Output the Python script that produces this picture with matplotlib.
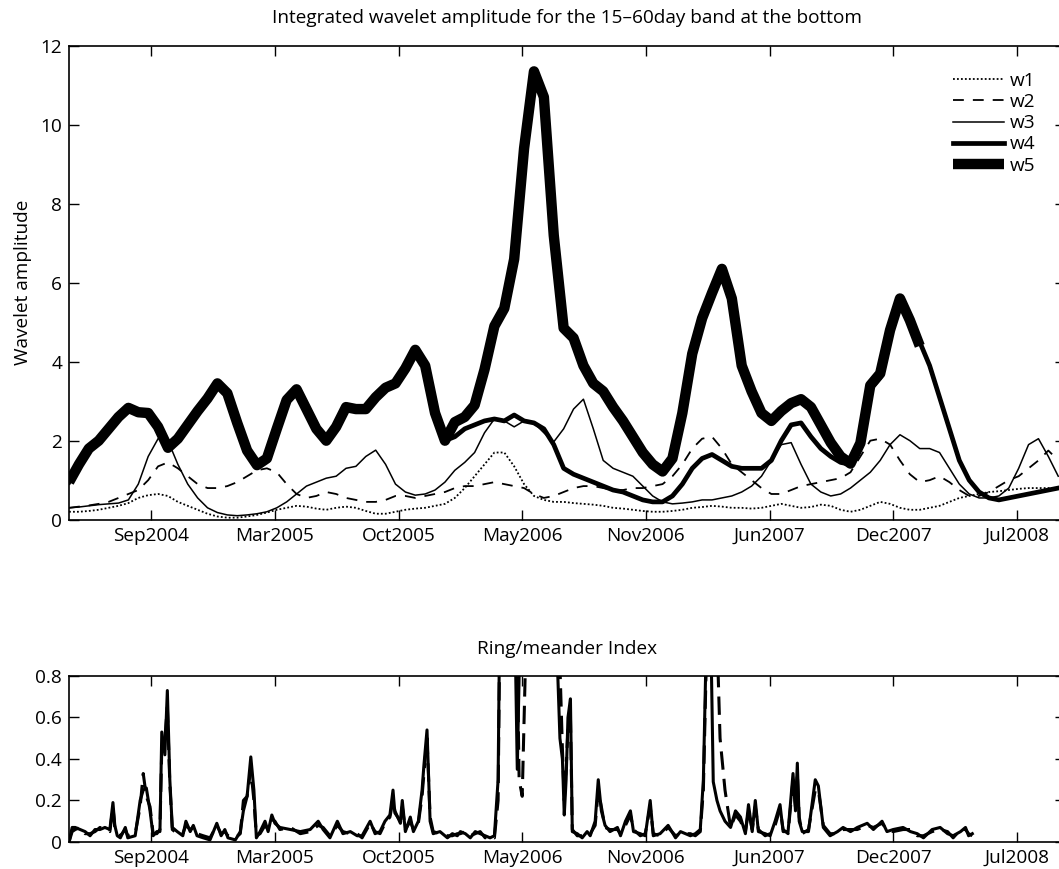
import numpy as np
import matplotlib
matplotlib.use("Agg")
import matplotlib.pyplot as plt

plt.rcParams["font.family"] = ["Open Sans", "DejaVu Sans"]

# top panel: wavelet amplitude sampled every 16 days (day 0 = 2004-04-30)
step_days = 16
w1 = [0.2, 0.2, 0.22, 0.25, 0.3, 0.35, 0.42, 0.55, 0.62, 0.65,
      0.6, 0.45, 0.35, 0.25, 0.15, 0.08, 0.05, 0.05, 0.08, 0.12,
      0.18, 0.25, 0.3, 0.35, 0.33, 0.28, 0.25, 0.3, 0.33, 0.3,
      0.22, 0.15, 0.15, 0.2, 0.25, 0.28, 0.3, 0.35, 0.4, 0.55,
      0.8, 1.1, 1.4, 1.7, 1.7, 1.35, 0.9, 0.6, 0.5, 0.45,
      0.45, 0.42, 0.4, 0.38, 0.35, 0.3, 0.28, 0.25, 0.22, 0.2,
      0.2, 0.22, 0.25, 0.3, 0.32, 0.35, 0.33, 0.3, 0.3, 0.28,
      0.3, 0.35, 0.4, 0.35, 0.3, 0.32, 0.38, 0.35, 0.25, 0.2,
      0.25, 0.35, 0.45, 0.4, 0.3, 0.25, 0.25, 0.3, 0.35, 0.45,
      0.55, 0.6, 0.65, 0.7, 0.72, 0.75, 0.78, 0.8, 0.8, 0.8, 0.8]
w2 = [0.3, 0.33, 0.36, 0.4, 0.45, 0.55, 0.65, 0.75, 1.0, 1.35,
      1.45, 1.3, 1.1, 0.9, 0.8, 0.8, 0.85, 0.95, 1.1, 1.25,
      1.3, 1.2, 0.9, 0.65, 0.55, 0.6, 0.7, 0.65, 0.55, 0.5,
      0.45, 0.45, 0.5, 0.6, 0.6, 0.55, 0.6, 0.65, 0.7, 0.8,
      0.85, 0.85, 0.9, 0.95, 0.9, 0.85, 0.8, 0.65, 0.55, 0.6,
      0.7, 0.8, 0.85, 0.85, 0.8, 0.75, 0.75, 0.8, 0.8, 0.85,
      0.9, 1.1, 1.4, 1.8, 2.05, 2.1, 1.8, 1.4, 1.2, 1.0,
      0.8, 0.65, 0.65, 0.75, 0.85, 0.9, 0.95, 1.0, 1.05, 1.2,
      1.6, 2.0, 2.05, 1.9, 1.5, 1.15, 0.95, 1.0, 1.1, 0.95,
      0.75, 0.6, 0.6, 0.7, 0.85, 1.0, 1.1, 1.3, 1.5, 1.75, 1.5]
w3 = [0.3, 0.32, 0.35, 0.38, 0.4, 0.42, 0.5, 0.9, 1.6, 2.05,
      2.0, 1.4, 0.9, 0.55, 0.3, 0.18, 0.12, 0.1, 0.12, 0.15,
      0.2, 0.3, 0.45, 0.65, 0.85, 0.95, 1.05, 1.1, 1.3, 1.35,
      1.6, 1.76, 1.4, 0.9, 0.7, 0.62, 0.65, 0.75, 0.95, 1.25,
      1.45, 1.7, 2.2, 2.55, 2.5, 2.35, 2.5, 2.45, 2.2, 1.97,
      2.3, 2.8, 3.05, 2.3, 1.5, 1.3, 1.2, 1.1, 0.85, 0.6,
      0.45, 0.4, 0.42, 0.45, 0.5, 0.5, 0.55, 0.6, 0.7, 0.85,
      1.1, 1.5, 1.9, 1.95, 1.4, 0.9, 0.7, 0.6, 0.65, 0.8,
      1.0, 1.2, 1.5, 1.9, 2.15, 2.0, 1.8, 1.8, 1.7, 1.3,
      0.9, 0.65, 0.55, 0.55, 0.6, 0.8, 1.3, 1.9, 2.05, 1.6, 1.1]
w4 = [0.95, 1.4, 1.8, 2.0, 2.3, 2.6, 2.83, 2.72, 2.7, 2.35,
      1.82, 2.05, 2.4, 2.75, 3.07, 3.45, 3.2, 2.45, 1.75, 1.38,
      1.55, 2.3, 3.03, 3.3, 2.8, 2.3, 2.0, 2.35, 2.85, 2.8,
      2.8, 3.1, 3.34, 3.45, 3.83, 4.3, 3.9, 2.7, 2.0, 2.1,
      2.3, 2.4, 2.5, 2.55, 2.5, 2.65, 2.5, 2.45, 2.3, 1.9,
      1.3, 1.15, 1.05, 0.95, 0.85, 0.75, 0.7, 0.6, 0.5, 0.45,
      0.45, 0.6, 0.9, 1.3, 1.55, 1.65, 1.5, 1.35, 1.3, 1.3,
      1.3, 1.5, 2.0, 2.4, 2.45, 2.1, 1.8, 1.6, 1.45, 1.4,
      1.9, 3.3, 3.6, 4.7, 5.55, 5.1, 4.5, 3.9, 3.1, 2.3,
      1.5, 1.0, 0.7, 0.55, 0.5, 0.55, 0.6, 0.65, 0.7, 0.75, 0.8]
w5 = [0.95, 1.4, 1.8, 2.0, 2.3, 2.6, 2.83, 2.72, 2.7, 2.35,
      1.82, 2.05, 2.4, 2.75, 3.07, 3.45, 3.2, 2.45, 1.75, 1.38,
      1.55, 2.3, 3.03, 3.3, 2.8, 2.3, 2.0, 2.35, 2.85, 2.8,
      2.8, 3.1, 3.34, 3.45, 3.83, 4.3, 3.9, 2.7, 2.0, 2.47,
      2.6, 2.9, 3.8, 4.9, 5.35, 6.6, 9.4, 11.35, 10.7, 7.2,
      4.85, 4.6, 3.9, 3.45, 3.25, 2.85, 2.5, 2.1, 1.7, 1.4,
      1.22, 1.55, 2.7, 4.2, 5.1, 5.74, 6.35, 5.6, 3.9, 3.25,
      2.7, 2.5, 2.75, 2.95, 3.05, 2.85, 2.4, 1.95, 1.6, 1.42,
      1.94, 3.4, 3.7, 4.8, 5.6, 5.05, 4.4]

# bottom panel: ring/meander index (two estimates)
ring_days = [0, 5, 10, 18, 26, 34, 42, 50, 58, 66, 71, 74, 78, 83, 91, 95, 107,
             115, 120, 125, 131, 136, 142, 147, 150, 155, 159, 163, 167, 175,
             184, 189, 196, 201, 207, 217, 228, 239, 246, 252, 257, 269, 277,
             282, 288, 294, 299, 303, 309, 317, 322, 328, 333, 341, 358, 374,
             390, 403, 411, 422, 434, 443, 455, 466, 474, 487, 495, 503, 511,
             519, 524, 527, 536, 539, 544, 552, 557, 565, 571, 574, 579, 584,
             589, 600, 612, 620, 628, 633, 641, 649, 657, 665, 673, 681, 688,
             694, 697, 702, 707, 712, 717, 722, 725, 728, 733, 741, 749, 754,
             762, 770, 778, 786, 790, 794, 798, 801, 804, 807, 811, 814, 822,
             830, 838, 843, 851, 856, 861, 867, 875, 887, 892, 900, 908, 913,
             924, 932, 940, 945, 956, 969, 981, 989, 1005, 1013, 1021, 1026,
             1031, 1037, 1042, 1048, 1053, 1061, 1070, 1078, 1086, 1094, 1099,
             1105, 1110, 1115, 1126, 1134, 1142, 1150, 1155, 1163, 1171, 1175,
             1178, 1181, 1186, 1196, 1207, 1212, 1220, 1231, 1243, 1252, 1264,
             1275, 1291, 1301, 1315, 1323, 1333, 1349, 1361, 1372, 1382, 1396,
             1409, 1421, 1430, 1442, 1450, 1455, 1461]
ring_a = [0.0, 0.07, 0.07, 0.06, 0.05, 0.03, 0.06, 0.06, 0.07, 0.06, 0.19, 0.08,
          0.03, 0.02, 0.07, 0.02, 0.03, 0.2, 0.25, 0.26, 0.15, 0.03, 0.05, 0.05,
          0.53, 0.42, 0.73, 0.3, 0.07, 0.05, 0.03, 0.1, 0.05, 0.08, 0.03, 0.02,
          0.01, 0.09, 0.03, 0.06, 0.02, 0.01, 0.05, 0.15, 0.22, 0.41, 0.25, 0.02,
          0.05, 0.1, 0.05, 0.13, 0.09, 0.07, 0.06, 0.05, 0.06, 0.1, 0.06, 0.02,
          0.1, 0.04, 0.05, 0.03, 0.03, 0.1, 0.04, 0.05, 0.1, 0.13, 0.25, 0.14,
          0.1, 0.2, 0.05, 0.12, 0.05, 0.1, 0.25, 0.37, 0.54, 0.1, 0.04, 0.05,
          0.02, 0.04, 0.03, 0.05, 0.04, 0.02, 0.05, 0.04, 0.03, 0.02, 0.03,
          0.3, 1.2, 1.5, 1.3, 1.1, 1.0, 0.9, 0.35, 0.8, 1.2, 1.3, 1.4, 1.3,
          1.2, 1.1, 1.0, 0.95, 0.85, 0.5, 0.4, 0.13, 0.3, 0.6, 0.69, 0.05,
          0.04, 0.02, 0.05, 0.03, 0.1, 0.3, 0.15, 0.08, 0.05, 0.07, 0.03, 0.1,
          0.15, 0.05, 0.04, 0.03, 0.2, 0.03, 0.04, 0.08, 0.02, 0.05, 0.03,
          0.04, 0.06, 0.3, 1.0, 1.2, 0.29, 0.2, 0.15, 0.1, 0.07, 0.15, 0.12,
          0.04, 0.18, 0.05, 0.2, 0.05, 0.04, 0.03, 0.1, 0.18, 0.05, 0.05, 0.33,
          0.15, 0.38, 0.1, 0.05, 0.05, 0.3, 0.27, 0.07, 0.03, 0.05, 0.07, 0.05,
          0.07, 0.09, 0.06, 0.1, 0.05, 0.06, 0.07, 0.05, 0.04, 0.02, 0.06, 0.07,
          0.04, 0.03, 0.05, 0.07, 0.03, 0.04]
ring_b = [0.0, 0.05, 0.06, 0.07, 0.04, 0.04, 0.05, 0.07, 0.06, 0.05, 0.17, 0.07,
          0.04, 0.03, 0.06, 0.03, 0.04, 0.17, 0.33, 0.22, 0.17, 0.04, 0.04, 0.06,
          0.45, 0.5, 0.65, 0.28, 0.06, 0.04, 0.04, 0.08, 0.06, 0.07, 0.04, 0.03,
          0.02, 0.08, 0.04, 0.05, 0.03, 0.02, 0.04, 0.2, 0.22, 0.35, 0.2, 0.03,
          0.04, 0.08, 0.06, 0.11, 0.1, 0.06, 0.07, 0.04, 0.05, 0.08, 0.07, 0.03,
          0.08, 0.05, 0.04, 0.04, 0.02, 0.09, 0.05, 0.04, 0.09, 0.12, 0.2, 0.15,
          0.09, 0.17, 0.06, 0.1, 0.06, 0.09, 0.22, 0.33, 0.5, 0.12, 0.05, 0.04,
          0.03, 0.03, 0.04, 0.04, 0.05, 0.03, 0.04, 0.05, 0.02, 0.03, 0.02,
          0.2, 1.1, 1.4, 1.3, 1.2, 1.1, 1.0, 0.9, 0.3, 0.22, 1.2, 1.3, 1.3,
          1.2, 1.1, 1.0, 0.95, 0.9, 0.85, 0.45, 0.2, 0.35, 0.55, 0.6, 0.06,
          0.03, 0.03, 0.04, 0.04, 0.08, 0.25, 0.17, 0.07, 0.06, 0.06, 0.04, 0.08,
          0.13, 0.06, 0.03, 0.04, 0.17, 0.04, 0.03, 0.07, 0.03, 0.04, 0.04,
          0.03, 0.05, 0.25, 0.9, 1.2, 1.1, 1.0, 0.5, 0.25, 0.07, 0.13, 0.1,
          0.05, 0.15, 0.06, 0.17, 0.06, 0.03, 0.04, 0.08, 0.16, 0.06, 0.04, 0.3,
          0.17, 0.33, 0.12, 0.04, 0.06, 0.25, 0.25, 0.08, 0.04, 0.04, 0.06, 0.06,
          0.06, 0.08, 0.07, 0.09, 0.06, 0.05, 0.06, 0.06, 0.03, 0.03, 0.05, 0.06,
          0.05, 0.02, 0.06, 0.06, 0.04, 0.03]

tick_days = [133, 333, 533, 733, 933, 1133, 1333, 1533]
tick_labels = ["Sep2004", "Mar2005", "Oct2005", "May2006", "Nov2006",
               "Jun2007", "Dec2007", "Jul2008"]
x_max = 1611

fs = 13.7

def style(ax):
    ax.tick_params(direction="in", length=7, width=1, top=True, right=True,
                   labelsize=fs, pad=5)
    for s in ax.spines.values():
        s.set_linewidth(1.2)
    ax.set_xlim(0, x_max)
    ax.set_xticks(tick_days)
    ax.set_xticklabels(tick_labels)

fig = plt.figure(figsize=(10.59, 8.69), dpi=100)
ax1 = fig.add_axes([0.0652, 0.402, 0.9405, 0.5454])
ax2 = fig.add_axes([0.0652, 0.0311, 0.9405, 0.191])

t = np.arange(len(w1)) * step_days
t5 = np.arange(len(w5)) * step_days
ax1.plot(t, w1, color="k", lw=1.3, ls=(0, (1, 1.2)), label="w1")
ax1.plot(t, w2, color="k", lw=1.3, ls=(0, (6, 5)), label="w2")
ax1.plot(t, w3, color="k", lw=1.1, label="w3")
ax1.plot(t, w4, color="k", lw=3.4, solid_joinstyle="round", label="w4")
ax1.plot(t5, w5, color="k", lw=7.5, solid_joinstyle="round",
         solid_capstyle="butt", label="w5")
style(ax1)
ax1.set_ylim(0, 12)
ax1.set_yticks(range(0, 13, 2))
ax1.set_ylabel("Wavelet amplitude", fontsize=fs, labelpad=6)
ax1.set_title("Integrated wavelet amplitude for the 15\u201360day band at the bottom",
              fontsize=fs, pad=16)
leg = ax1.legend(loc="upper right", bbox_to_anchor=(0.97, 0.945), frameon=False,
                 fontsize=fs, handlelength=2.65, handletextpad=0.3,
                 labelspacing=0.17, borderpad=0, borderaxespad=0)

ax2.plot(ring_days, ring_b, color="k", lw=2.2, ls=(0, (6, 3)))
ax2.plot(ring_days, ring_a, color="k", lw=2.2)
style(ax2)
ax2.set_ylim(0, 0.8)
ax2.set_yticks([0, 0.2, 0.4, 0.6, 0.8])
ax2.set_yticklabels(["0", "0.2", "0.4", "0.6", "0.8"])
ax2.set_title("Ring/meander Index", fontsize=fs, pad=16)

fig.savefig("out.png", dpi=100)
